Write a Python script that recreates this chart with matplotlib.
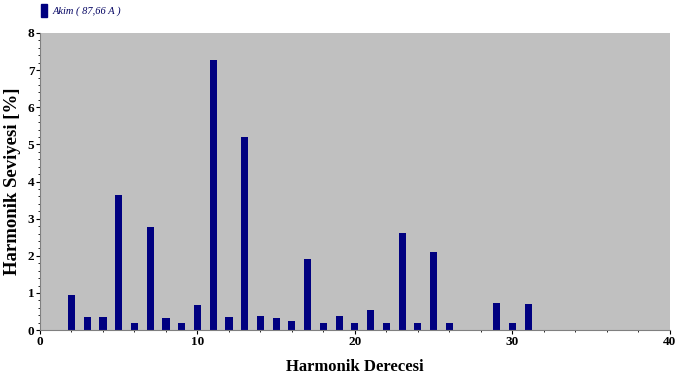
import matplotlib.pyplot as plt
from matplotlib.patches import Rectangle

harmonics = list(range(2, 32))
levels = [0.94, 0.35, 0.36, 3.64, 0.20, 2.78, 0.33, 0.20, 0.68, 7.28,
          0.35, 5.20, 0.38, 0.34, 0.25, 1.91, 0.20, 0.38, 0.18, 0.55,
          0.20, 2.61, 0.20, 2.10, 0.20, 0.0, 0.0, 0.72, 0.20, 0.70]
legend_label = "Akim ( 87,66 A )"

plt.rcParams['font.family'] = ['Liberation Serif', 'DejaVu Serif']

fig = plt.figure(figsize=(6.78, 3.83), dpi=100)
ax = fig.add_axes([0.059, 0.138, 0.929, 0.776])
ax.set_facecolor('#c0c0c0')

ax.bar(harmonics, levels, width=0.45, color='#000080', zorder=2)

ax.set_xlim(0, 40)
ax.set_ylim(0, 8)
ax.set_xticks([0, 10, 20, 30, 40])
ax.set_xticks(range(0, 41, 2), minor=True)
ax.set_yticks(range(0, 9))
ax.set_yticks([i * 0.2 for i in range(41)], minor=True)
ax.tick_params(axis='both', labelsize=9.5, length=3, pad=1)
ax.tick_params(which='minor', length=1.5)
for lab in ax.get_yticklabels() + ax.get_xticklabels():
    lab.set_fontweight('bold')

for s in ['top', 'right']:
    ax.spines[s].set_visible(False)
ax.spines['left'].set_color('#808080')
ax.spines['bottom'].set_color('#808080')

ax.set_ylabel("Harmonik Seviyesi [%]", fontsize=13.5, fontweight='bold', labelpad=5)
ax.set_xlabel("Harmonik Derecesi", fontsize=12, fontweight='bold', labelpad=8)

fig.patches.append(Rectangle((0.061, 0.955), 0.008, 0.035, transform=fig.transFigure,
                             color='#000080'))
fig.text(0.077, 0.972, legend_label, fontsize=7.5, style='italic', color='#000060',
         va='center')

fig.savefig("out.png", dpi=100)
